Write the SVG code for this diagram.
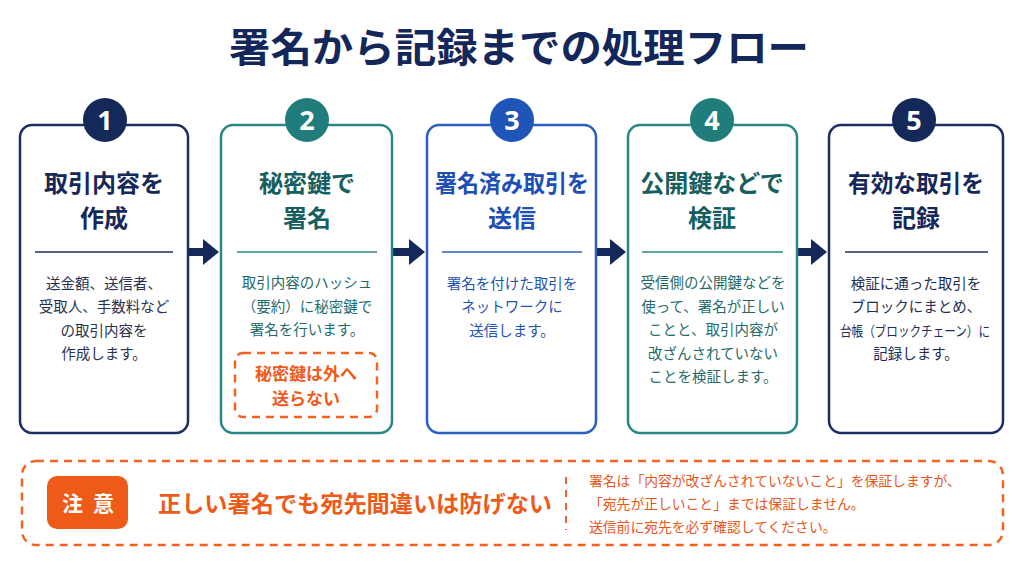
<svg xmlns="http://www.w3.org/2000/svg" width="1024" height="576" viewBox="0 0 1024 576">
<style>
text{font-family:"Noto Sans CJK JP","Noto Sans",sans-serif;text-anchor:middle}
.card{fill:#ffffff;stroke-width:2.5}
.ttl{font-size:24px;font-weight:700}
.body{font-size:14.5px;font-weight:400}
.num{font-family:"Noto Sans","Liberation Sans",sans-serif;font-size:27px;font-weight:700;fill:#ffffff}
.div{stroke-width:1.5}
.navy{stroke:#1b2d63}.navyf{fill:#15285a}
.teal{stroke:#2a8785}.tealf{fill:#217d7b}
.blue{stroke:#2a5fc0}.bluef{fill:#1f55b8}
.arrow{fill:#15285a}
.orange{fill:#ee5a18}
.dash{fill:none;stroke:#f26322;stroke-width:2.5;stroke-dasharray:8 6}
</style>
<rect width="1024" height="576" fill="#ffffff"/>
<text x="519" y="62" font-size="40" font-weight="700" fill="#14275a" textLength="580" lengthAdjust="spacingAndGlyphs">署名から記録までの処理フロー</text>

<g id="connectors">
<path class="arrow" d="M189 248 H203 V239 L219 252 L203 265 V256 H189 Z"/>
<path class="arrow" d="M393 248 H409 V239 L425 252 L409 265 V256 H393 Z"/>
<path class="arrow" d="M597 248 H610 V239 L626 252 L610 265 V256 H597 Z"/>
<path class="arrow" d="M798 248 H811 V239 L827 252 L811 265 V256 H798 Z"/>
</g>

<g id="step1">
<rect class="card navy" x="20" y="125" width="168" height="308" rx="12"/>
<circle class="navyf" cx="105" cy="120" r="22"/>
<text class="num" x="105" y="129.5">1</text>
<text class="ttl" x="104" y="192" fill="#15285a">取引内容を</text>
<text class="ttl" x="104" y="227" fill="#15285a">作成</text>
<line class="div navy" x1="35" y1="252" x2="173" y2="252"/>
<g class="body" fill="#28324f">
<text x="104" y="288.5">送金額、送信者、</text>
<text x="104" y="312">受取人、手数料など</text>
<text x="104" y="335.5">の取引内容を</text>
<text x="104" y="359">作成します。</text>
</g>
</g>

<g id="step2">
<rect class="card teal" x="221" y="125" width="171" height="308" rx="12"/>
<circle class="tealf" cx="307" cy="120" r="22"/>
<text class="num" x="307" y="129.5">2</text>
<text class="ttl" x="307" y="192" fill="#175f60">秘密鍵で</text>
<text class="ttl" x="307" y="227" fill="#175f60">署名</text>
<line class="div teal" x1="237" y1="252" x2="377" y2="252"/>
<g class="body" fill="#1f6b6c">
<text x="307" y="288">取引内容のハッシュ</text>
<text x="307" y="311.5">（要約）に秘密鍵で</text>
<text x="307" y="335">署名を行います。</text>
</g>
<rect class="dash" x="235" y="353" width="142" height="64" rx="8" stroke-width="2"/>
<text x="306" y="379.5" font-size="17" font-weight="700" fill="#f05a1a">秘密鍵は外へ</text>
<text x="306" y="404.5" font-size="17" font-weight="700" fill="#f05a1a">送らない</text>
</g>

<g id="step3">
<rect class="card blue" x="427" y="125" width="169" height="308" rx="12"/>
<circle class="bluef" cx="512" cy="120" r="22"/>
<text class="num" x="512" y="129.5">3</text>
<text class="ttl" x="512" y="192" fill="#1d4fb5" textLength="154" lengthAdjust="spacingAndGlyphs">署名済み取引を</text>
<text class="ttl" x="512" y="227" fill="#1d4fb5">送信</text>
<line class="div blue" x1="442" y1="252" x2="582" y2="252"/>
<g class="body" fill="#2353b0">
<text x="512" y="288.5">署名を付けた取引を</text>
<text x="512" y="312">ネットワークに</text>
<text x="512" y="335.5">送信します。</text>
</g>
</g>

<g id="step4">
<rect class="card teal" x="628" y="125" width="169" height="308" rx="12"/>
<circle class="tealf" cx="712" cy="120" r="22"/>
<text class="num" x="712" y="129.5">4</text>
<text class="ttl" x="712" y="192" fill="#175f5e">公開鍵などで</text>
<text class="ttl" x="712" y="227" fill="#175f5e">検証</text>
<line class="div teal" x1="642" y1="252" x2="783" y2="252"/>
<g class="body" fill="#1f6b6a">
<text x="713" y="288">受信側の公開鍵などを</text>
<text x="713" y="311.5">使って、署名が正しい</text>
<text x="713" y="335">ことと、取引内容が</text>
<text x="713" y="358.5">改ざんされていない</text>
<text x="713" y="382">ことを検証します。</text>
</g>
</g>

<g id="step5">
<rect class="card navy" x="829" y="125" width="174" height="308" rx="12"/>
<circle class="navyf" cx="914" cy="120" r="22"/>
<text class="num" x="914" y="129.5">5</text>
<text class="ttl" x="916" y="192" fill="#15285a" textLength="136" lengthAdjust="spacingAndGlyphs">有効な取引を</text>
<text class="ttl" x="916" y="227" fill="#15285a">記録</text>
<line class="div navy" x1="845" y1="252" x2="988" y2="252"/>
<g class="body" fill="#1e2d55">
<text x="916" y="288.5">検証に通った取引を</text>
<text x="916" y="312">ブロックにまとめ、</text>
<text x="915" y="335.5" font-size="14" textLength="150" lengthAdjust="spacingAndGlyphs">台帳（ブロックチェーン）に</text>
<text x="916" y="359">記録します。</text>
</g>
</g>

<g id="note">
<rect class="dash" x="22" y="461" width="981" height="84" rx="14"/>
<rect class="orange" x="47" y="476" width="81" height="53" rx="10"/>
<text x="88" y="511" font-size="21" font-weight="700" fill="#ffffff" letter-spacing="10" dx="5">注意</text>
<text x="355" y="512" font-size="23" font-weight="700" fill="#ee5a18" textLength="394" lengthAdjust="spacingAndGlyphs">正しい署名でも宛先間違いは防げない</text>
<line x1="566" y1="477" x2="566" y2="530" stroke="#f26322" stroke-width="2" stroke-dasharray="7 6"/>
<g font-size="13.8" fill="#e8561a">
<text x="589" y="486" style="text-anchor:start">署名は「内容が改ざんされていないこと」を保証しますが、</text>
<text x="589" y="509" style="text-anchor:start">「宛先が正しいこと」までは保証しません。</text>
<text x="589" y="532" style="text-anchor:start">送信前に宛先を必ず確認してください。</text>
</g>
</g>
</svg>
